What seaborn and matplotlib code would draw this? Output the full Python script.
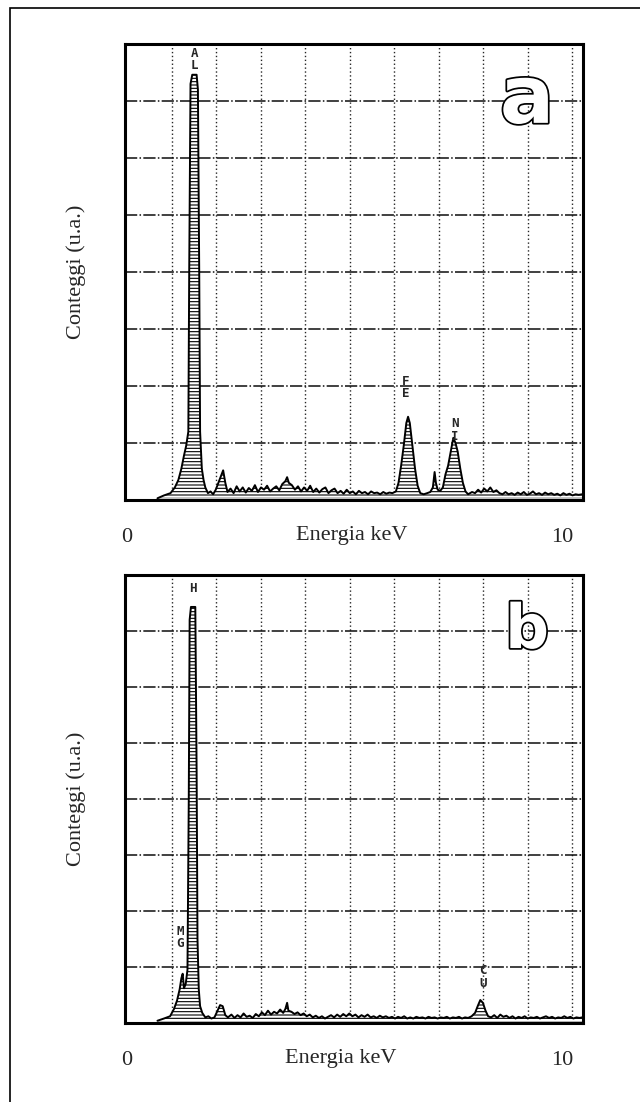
import matplotlib
matplotlib.use("Agg")
import matplotlib.pyplot as plt
import matplotlib.patheffects as pe
from matplotlib.patches import Rectangle
import seaborn as sns

# ---- data (energy in keV, counts in grid units) ----
energy_a = [0.70, 0.85, 1.00, 1.10, 1.18, 1.25, 1.31, 1.36, 1.41, 1.43, 1.46, 1.50, 1.60, 1.63, 1.66, 1.68,
            1.72, 1.76, 1.80, 1.86, 1.92, 1.98, 2.04, 2.10, 2.16, 2.21, 2.26, 2.31,
            2.38, 2.45, 2.52, 2.59, 2.66, 2.73, 2.80, 2.87, 2.94, 3.01, 3.08, 3.15, 3.22, 3.29, 3.36, 3.43,
            3.50, 3.57, 3.64, 3.68, 3.72, 3.79, 3.86, 3.93, 4.00, 4.07, 4.14, 4.21, 4.28, 4.35, 4.42, 4.49,
            4.56, 4.63, 4.70, 4.77, 4.84, 4.91, 4.98, 5.05, 5.12, 5.19, 5.26, 5.33, 5.40, 5.47, 5.54, 5.61,
            5.68, 5.75, 5.82, 5.89, 5.96, 6.03, 6.10,
            6.18, 6.24, 6.30, 6.36, 6.42, 6.46, 6.50, 6.56, 6.62, 6.68, 6.74, 6.82, 6.90, 6.97, 7.03, 7.07,
            7.10, 7.14, 7.20, 7.26, 7.32, 7.38, 7.44, 7.50, 7.55, 7.60, 7.66, 7.72, 7.78, 7.84,
            7.93, 8.00, 8.07, 8.14, 8.21, 8.28, 8.35, 8.42, 8.49, 8.56, 8.63, 8.70, 8.77, 8.84, 8.91, 8.98,
            9.05, 9.12, 9.19, 9.26, 9.33, 9.40, 9.47, 9.54, 9.61, 9.68, 9.75, 9.82, 9.89, 9.96, 10.03, 10.10,
            10.17, 10.24, 10.31, 10.38, 10.46]
counts_a = [0.03, 0.08, 0.12, 0.22, 0.35, 0.55, 0.78, 0.95, 1.20, 4.00, 7.30, 7.46, 7.46, 7.20, 4.00, 1.20,
            0.55, 0.35, 0.22, 0.12, 0.15, 0.10, 0.18, 0.30, 0.42, 0.52, 0.30, 0.14,
            0.20, 0.12, 0.24, 0.15, 0.22, 0.13, 0.21, 0.16, 0.26, 0.14, 0.22, 0.18, 0.25, 0.15, 0.20, 0.24,
            0.17, 0.28, 0.33, 0.40, 0.30, 0.26, 0.18, 0.24, 0.15, 0.22, 0.16, 0.25, 0.14, 0.20, 0.13, 0.19,
            0.22, 0.12, 0.17, 0.20, 0.12, 0.16, 0.11, 0.18, 0.12, 0.15, 0.10, 0.16, 0.12, 0.14, 0.10, 0.15,
            0.12, 0.13, 0.10, 0.14, 0.11, 0.13, 0.12,
            0.15, 0.30, 0.60, 0.95, 1.35, 1.46, 1.35, 0.95, 0.55, 0.25, 0.12, 0.10, 0.12, 0.14, 0.22, 0.49,
            0.30, 0.18, 0.16, 0.22, 0.45, 0.60, 0.85, 1.09, 1.00, 0.85, 0.55, 0.30, 0.15, 0.10,
            0.14, 0.12, 0.18, 0.13, 0.20, 0.15, 0.22, 0.14, 0.17, 0.12, 0.10, 0.14, 0.10, 0.12, 0.09, 0.13,
            0.10, 0.14, 0.09, 0.11, 0.15, 0.10, 0.12, 0.09, 0.13, 0.10, 0.12, 0.09, 0.11, 0.08, 0.12, 0.09,
            0.11, 0.08, 0.10, 0.09, 0.10]

energy_b = [0.70, 0.85, 0.99, 1.08, 1.15, 1.21, 1.25, 1.28, 1.31, 1.35, 1.39, 1.42, 1.44, 1.47, 1.57, 1.60,
            1.62, 1.65, 1.68, 1.73, 1.80, 1.87, 1.94, 2.01, 2.08, 2.14, 2.20, 2.26, 2.32,
            2.40, 2.47, 2.54, 2.61, 2.68, 2.75, 2.82, 2.89, 2.96, 3.03, 3.10, 3.17, 3.24, 3.31, 3.38, 3.45,
            3.52, 3.59, 3.64, 3.68, 3.71, 3.78, 3.85, 3.92, 3.99, 4.06, 4.13, 4.20, 4.27, 4.34, 4.41, 4.48,
            4.55, 4.62, 4.69, 4.76, 4.83, 4.90, 4.97, 5.04, 5.11, 5.18, 5.25, 5.32, 5.39, 5.46, 5.53, 5.60,
            5.67, 5.74, 5.81, 5.88, 5.95, 6.02, 6.09, 6.16, 6.23, 6.30, 6.37, 6.44, 6.51, 6.58, 6.65, 6.72,
            6.79, 6.86, 6.93, 7.00, 7.07, 7.14, 7.21, 7.28, 7.35, 7.42, 7.49, 7.56, 7.63, 7.70, 7.77, 7.84,
            7.92, 8.00, 8.06, 8.12, 8.18, 8.24, 8.30, 8.37, 8.44, 8.51, 8.58, 8.65, 8.72, 8.79, 8.86, 8.93,
            9.00, 9.07, 9.14, 9.21, 9.28, 9.35, 9.42, 9.49, 9.56, 9.63, 9.70, 9.77, 9.84, 9.91, 9.98, 10.05,
            10.12, 10.19, 10.26, 10.33, 10.40, 10.46]
counts_b = [0.04, 0.08, 0.12, 0.25, 0.40, 0.60, 0.80, 0.88, 0.62, 0.70, 0.95, 4.00, 7.20, 7.43, 7.43, 4.50,
            1.50, 0.60, 0.30, 0.18, 0.10, 0.12, 0.08, 0.10, 0.22, 0.32, 0.30, 0.14, 0.10,
            0.15, 0.09, 0.14, 0.10, 0.17, 0.11, 0.13, 0.09, 0.16, 0.12, 0.19, 0.14, 0.22, 0.15, 0.20, 0.17,
            0.24, 0.18, 0.25, 0.36, 0.22, 0.20, 0.16, 0.19, 0.14, 0.17, 0.12, 0.15, 0.10, 0.13, 0.09, 0.12,
            0.08, 0.11, 0.14, 0.10, 0.15, 0.11, 0.16, 0.12, 0.17, 0.12, 0.15, 0.10, 0.14, 0.11, 0.15, 0.10,
            0.12, 0.09, 0.13, 0.10, 0.12, 0.09, 0.11, 0.08, 0.11, 0.09, 0.12, 0.08, 0.10, 0.08, 0.11, 0.09,
            0.10, 0.08, 0.11, 0.09, 0.10, 0.08, 0.10, 0.09, 0.11, 0.08, 0.10, 0.09, 0.11, 0.08, 0.10, 0.09,
            0.12, 0.18, 0.30, 0.41, 0.36, 0.22, 0.12, 0.10, 0.14, 0.09, 0.15, 0.11, 0.13, 0.09, 0.12, 0.08,
            0.11, 0.09, 0.12, 0.08, 0.10, 0.09, 0.11, 0.08, 0.10, 0.12, 0.09, 0.11, 0.08, 0.10, 0.09, 0.12,
            0.09, 0.11, 0.08, 0.10, 0.09, 0.10]

# element markers: (text, energy, counts at bottom of label)
peaks_a = [("A\nL", 1.55, 7.50), ("F\nE", 6.41, 1.75), ("N\nI", 7.54, 1.00)]
peaks_b = [("H", 1.52, 7.64), ("M\nG", 1.22, 1.30), ("C\nU", 8.18, 0.59)]

tick_labels = ["0", "10"]
tick_energy = [0, 10]
grid_energy = [1.022 * k + 0.012 for k in range(1, 11)]
grid_counts = [1, 2, 3, 4, 5, 6, 7]

sns.set_theme(style="white")
plt.rcParams["font.family"] = ["Liberation Serif", "DejaVu Serif"]
plt.rcParams["hatch.linewidth"] = 0.8

fig = plt.figure(figsize=(6.4, 11.02), dpi=100)
ax_a = fig.add_axes([0.1953, 0.5463, 0.7156, 0.4138])
ax_b = fig.add_axes([0.1953, 0.0717, 0.7156, 0.4065])

# outer scanned border
fig.add_artist(Rectangle((10 / 640, -0.05), 1.2, 1.05 - 8 / 1102, transform=fig.transFigure,
                         fill=False, edgecolor="black", lw=1.2))


def draw_panel(ax, energy, counts, peaks, letter, letter_size, letter_y, xlabel_x):
    ax.set_xlim(-0.046, 10.48)
    ax.set_ylim(0, 8)
    for gx in grid_energy:
        ax.axvline(gx, color="0.15", lw=1.0, ls=(0, (1, 1.8)), zorder=1)
    for gy in grid_counts:
        ax.axhline(gy, color="0.05", lw=1.1, ls=(0, (8, 1.5, 1, 1.5)), zorder=1)

    ax.fill_between(energy, 0.03, counts, facecolor="white", edgecolor="black",
                    hatch="-----", lw=0, zorder=2)
    sns.lineplot(x=energy, y=counts, ax=ax, color="black", lw=1.4, estimator=None, zorder=3)

    for txt, e, c in peaks:
        ax.text(e, c, txt, ha="center", va="bottom", fontsize=9, fontweight="bold",
                family="DejaVu Sans Mono", linespacing=0.95, zorder=4)

    ax.text(0.878, letter_y, letter, transform=ax.transAxes, ha="center", va="baseline",
            fontsize=letter_size, fontweight="bold", family="DejaVu Sans", color="white",
            path_effects=[pe.withStroke(linewidth=2.5, foreground="black")], zorder=5)

    ax.set_xticks(tick_energy)
    ax.set_xticklabels(tick_labels)
    ax.set_yticks([])
    ax.tick_params(axis="x", length=0, pad=20, labelsize=16)
    ax.set_xlabel("Energia keV", fontsize=16)
    ax.xaxis.set_label_coords(xlabel_x, -0.058)
    ax.xaxis.label.set_va("top")
    ax.set_ylabel("Conteggi (u.a.)", fontsize=16)
    ax.yaxis.set_label_coords(-0.085, 0.5)
    for side, sp in ax.spines.items():
        sp.set_color("black")
        sp.set_linewidth(2.2)
        sp.set_zorder(6)


draw_panel(ax_a, energy_a, counts_a, peaks_a, "a", 58, 0.827, 0.496)
draw_panel(ax_b, energy_b, counts_b, peaks_b, "b", 44, 0.837, 0.472)

fig.savefig("out.png", dpi=100)
